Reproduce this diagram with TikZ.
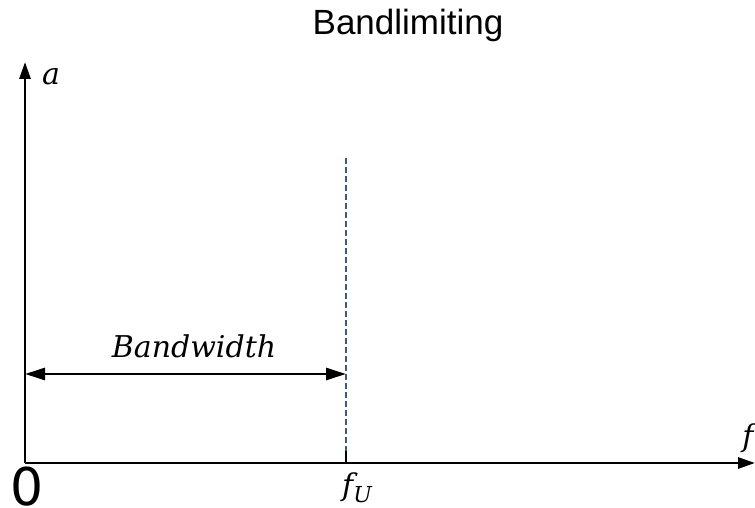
\documentclass[tikz,border=0pt]{standalone}
\usepackage{fontspec}
\setmainfont{Liberation Sans}
\newfontfamily\labfont{DejaVu Serif}
\newfontfamily\zerofont{DejaVu Sans}
\usetikzlibrary{arrows.meta}
\definecolor{dashblue}{HTML}{3A5A8F}
\begin{document}
\begin{tikzpicture}[x=1pt,y=-1pt,
  axis/.style={line width=2.8pt,-{Triangle[length=17pt,width=11pt]}},
  dimline/.style={line width=2.8pt,{Triangle[length=20pt,width=12pt]}-{Triangle[length=20pt,width=12pt]}},
  lab/.style={font=\labfont\itshape\fontsize{30}{34}\selectfont, inner sep=0pt}]
\useasboundingbox (0,0) rectangle (755,508);
\fill[white] (0,0) rectangle (755,508);
\coordinate (O) at (25,463);
\coordinate (ytop) at (25,62);
\coordinate (xend) at (755,463);
\coordinate (fU) at (346,463);
\coordinate (dtop) at (346,158);
\coordinate (bl) at (25,374);
\coordinate (br) at (346,374);
\draw[line width=2.2pt, dashblue, dash pattern=on 6pt off 3pt] (dtop) -- (fU);
\draw[line width=2.2pt] (346,451) -- (fU);
\draw[axis] (O) -- (ytop);
\draw[axis] (O) -- (xend);
\draw[dimline] (bl) -- (br);
\node[font=\fontsize{35}{40}\selectfont, inner sep=0pt, anchor=base] (title) at (408,35) {Bandlimiting};
\node[lab, anchor=base] (alab) at (51,85) {a};
\node[lab] (flab) at (748,438) {f};
\node[lab, anchor=base] (blab) at (194,357) {Bandwidth};
\node[lab] (fulab) at (357,488) {f\raisebox{-7pt}{\fontsize{22}{24}\selectfont U}};
\node[font=\zerofont\fontsize{52}{56}\selectfont, inner sep=0pt, anchor=base] (zero) at (27.5,505) {0};
\end{tikzpicture}
\end{document}
